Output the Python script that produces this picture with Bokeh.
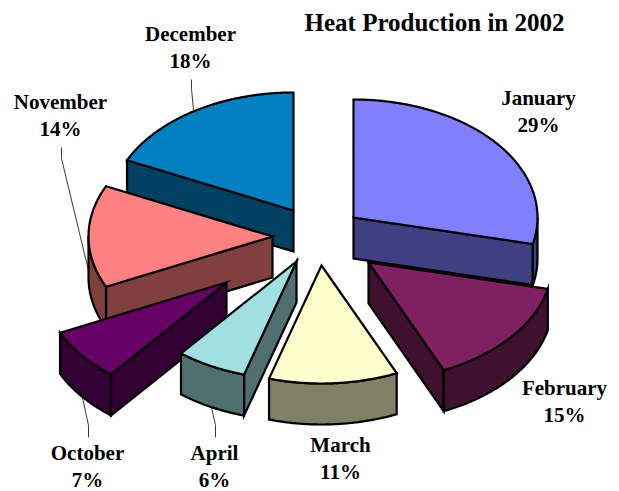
import math
from bokeh.plotting import figure
from bokeh.models import Range1d
from bokeh.core.properties import value
from bokeh.embed import file_html
from bokeh.resources import INLINE

# --- data ---
TITLE = "Heat Production in 2002"
months = ["January", "February", "March", "April", "October", "November", "December"]
shares = [28.6, 14.7, 11.3, 6.2, 7.2, 14.0, 18.0]
top_colors = ["#8080FF", "#802060", "#FFFFCC", "#A0E0E0", "#660066", "#FF8080", "#0080C0"]
side_colors = ["#404080", "#401030", "#808066", "#507070", "#330033", "#804040", "#004060"]

# --- layout of the drawing ---
PAGE_W, PAGE_H = 619, 491
RX, RY, DEPTH = 184, 118, 41
CX, CY = 320, 236
PULL = {"January": (33, -19), "February": (48, 26), "March": (1, 29), "April": (-24, 25),
        "October": (-94, 46), "November": (-48, 0), "December": (-27, -26)}
LABEL = {"January": (538, 97), "February": (564, 387), "March": (340, 444), "April": (214, 452),
         "October": (87, 452), "November": (60, 101), "December": (190, 33)}
LINE_STEP = 27.5
LEADERS = [[(191, 79), (191, 88), (193, 110)],
           [(61, 147), (61, 158), (88, 270)],
           [(88, 437), (88, 425), (82, 397)],
           [(215, 437), (215, 425), (211, 407)]]
DRAW_ORDER = ["December", "January", "November", "February", "October", "April", "March"]
LINE = "#000000"

p = figure(width=PAGE_W, height=PAGE_H,
           x_range=Range1d(0, PAGE_W), y_range=Range1d(PAGE_H, 0),
           toolbar_location=None, output_backend="svg", min_border=0,
           outline_line_color=None, margin=(0, 0, 0, 0))
p.axis.visible = False
p.grid.visible = False

total = sum(shares)
spans, acc = {}, 0.0
for m, s in zip(months, shares):
    spans[m] = (acc / total * 360, (acc + s) / total * 360)
    acc += s


def arc(ax, ay, a0, a1, drop=0.0):
    n = max(2, int(abs(a1 - a0) * 2))
    out = []
    for i in range(n + 1):
        t = math.radians(a0 + (a1 - a0) * i / n)
        out.append((ax + RX * math.sin(t), ay - RY * math.cos(t) + drop))
    return out


def poly(points, fill):
    p.patch([q[0] for q in points], [q[1] for q in points], fill_color=fill,
            line_color=LINE, line_width=2.2, line_join="miter")


for line in LEADERS:
    p.line([q[0] for q in line], [q[1] for q in line], line_color="#222222", line_width=0.9)

for m in DRAW_ORDER:
    i = months.index(m)
    a0, a1 = spans[m]
    ax, ay = CX + PULL[m][0], CY + PULL[m][1]
    top, side = top_colors[i], side_colors[i]
    faces = []
    if 180 < a0 < 360:
        faces.append(a0)
    if 0 < a1 < 180:
        faces.append(a1)
    for a in faces:
        e = arc(ax, ay, a, a)[0]
        poly([(ax, ay), e, (e[0], e[1] + DEPTH), (ax, ay + DEPTH)], side)
    lo, hi = max(a0, 90), min(a1, 270)
    if hi > lo:
        poly(arc(ax, ay, lo, hi) + arc(ax, ay, lo, hi, DEPTH)[::-1], side)
    poly([(ax, ay)] + arc(ax, ay, a0, a1), top)

font = value("Liberation Serif")
p.text([434], [22], text=[TITLE], text_font=font, text_font_style="bold",
       text_font_size="25px", text_align="center", text_baseline="middle", text_color="#000000")
for m, s in zip(months, shares):
    x, y = LABEL[m]
    p.text([x, x], [y, y + LINE_STEP], text=[m, f"{round(s)}%"], text_font=font, text_font_style="bold",
           text_font_size="21px", text_align="center", text_baseline="middle", text_color="#000000")

open("out.html", "w").write(file_html(p, INLINE))
